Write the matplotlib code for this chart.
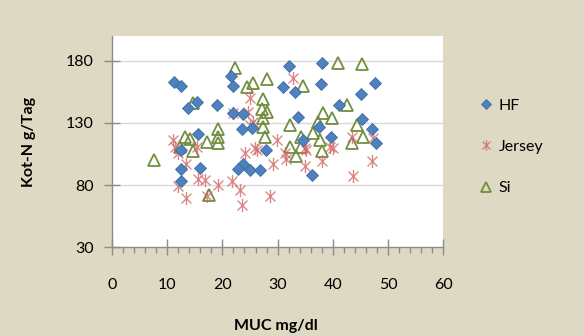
import matplotlib
matplotlib.use("Agg")
import matplotlib.pyplot as plt
from matplotlib.path import Path
from matplotlib.ticker import MultipleLocator

# ---- data ----
hf_x = [11.3, 12.5, 13.7, 15.4, 19.1, 21.5, 21.9, 32.1, 31.0, 33.1, 38.1, 37.8, 47.6,
        45.0, 41.1, 33.7, 45.3, 37.5, 47.0, 39.6, 47.8, 34.6, 21.9, 23.8, 23.5, 25.3,
        27.9, 15.6, 12.6, 12.6, 12.6, 15.9, 23.8, 22.9, 25.0, 26.8, 36.3]
hf_y = [163, 160, 142, 147, 144, 168, 160, 176, 159, 155, 178, 161, 162,
        153, 144, 135, 133, 127, 125, 119, 114, 116, 138, 137, 125, 126,
        108, 121, 108, 93, 83, 94, 97, 93, 92, 92, 88]

jersey_x = [11.0, 11.5, 12.0, 13.5, 12.0, 13.4, 15.4, 15.6, 16.9, 17.2, 19.3, 21.7,
            22.0, 23.2, 23.5, 24.1, 24.7, 25.0, 25.0, 25.6, 25.9, 26.2, 28.6, 29.2,
            29.8, 31.3, 31.6, 32.8, 34.9, 34.9, 35.2, 38.0, 39.5, 40.1, 43.4, 43.7,
            47.0, 47.3]
jersey_y = [116, 111, 106, 97, 79, 70, 111, 85, 84, 71, 80, 83,
            138, 76, 64, 106, 139, 150, 128, 131, 110, 108, 71, 97,
            116, 106, 101, 166, 95, 110, 108, 99, 111, 110, 119, 87,
            99, 118]

si_x = [7.7, 14.7, 22.3, 24.4, 25.6, 28.0, 27.3, 27.2, 28.1, 27.3, 27.7, 19.3, 19.3,
        19.3, 17.2, 14.1, 13.2, 12.3, 17.6, 34.5, 41.0, 45.2, 42.6, 39.8, 38.2, 37.3,
        32.2, 44.3, 45.5, 43.4, 37.6, 34.2, 36.4, 32.2, 38.0, 33.4, 34.3, 27.4, 14.7]
si_y = [100, 146, 174, 159, 162, 165, 149, 141, 139, 134, 119, 125, 119,
        114, 115, 117, 119, 111, 72, 160, 178, 177, 144, 134, 138, 131,
        128, 128, 119, 114, 116, 119, 122, 111, 107, 103, 111, 127, 107]

series_names = ["HF", "Jersey", "Si"]
x_ticks = [0, 10, 20, 30, 40, 50, 60]
y_ticks = [30, 80, 130, 180]
x_label = "MUC mg/dl"
y_label = "Kot-N g/Tag"

# ---- style ----
plt.rcParams['font.family'] = ['Lato', 'DejaVu Sans']
bg = "#DDD9C3"
hf_face, hf_edge = "#4F81BD", "#3A6BA5"
jersey_col = "#D06A67"
si_col = "#728E3E"
axis_col = "#8C8C8C"

star = Path([(0, -1), (0, 1), (-0.75, -0.75), (0.75, 0.75), (-0.75, 0.75), (0.75, -0.75)],
            [Path.MOVETO, Path.LINETO, Path.MOVETO, Path.LINETO, Path.MOVETO, Path.LINETO])

fig = plt.figure(figsize=(5.84, 3.36), dpi=100, facecolor=bg)
ax = fig.add_axes([0.1914, 0.264, 0.5680, 0.6295])
ax.set_facecolor("white")

ax.plot(si_x, si_y, linestyle="none", marker="^", markersize=9, markerfacecolor="none",
        markeredgecolor=si_col, markeredgewidth=1.3, label=series_names[2], zorder=3)
ax.plot(jersey_x, jersey_y, linestyle="none", marker=star, markersize=9.5,
        markeredgecolor=jersey_col, markerfacecolor="none", markeredgewidth=1.0,
        alpha=0.8, label=series_names[1], zorder=4)
ax.plot(hf_x, hf_y, linestyle="none", marker="D", markersize=6.5, markerfacecolor=hf_face,
        markeredgecolor=hf_edge, markeredgewidth=0.6, label=series_names[0], zorder=5)

ax.set_xlim(0, 60)
ax.set_ylim(30, 200)
ax.set_xticks(x_ticks)
ax.set_yticks(y_ticks)
ax.xaxis.set_minor_locator(MultipleLocator(2))

for y in y_ticks[1:]:
    ax.axhline(y, color="#D9D9D9", linewidth=1.0, zorder=1)

for s in ["top", "right"]:
    ax.spines[s].set_visible(False)
for s in ["left", "bottom"]:
    ax.spines[s].set_color(axis_col)
    ax.spines[s].set_linewidth(1.0)

ax.tick_params(axis="x", which="major", direction="inout", length=12, width=1.0,
               color=axis_col, labelsize=11.5, pad=16)
ax.tick_params(axis="x", which="minor", direction="out", length=4.5, width=1.0, color=axis_col)
ax.tick_params(axis="y", which="major", direction="inout", length=12, width=1.0,
               color=axis_col, labelsize=11.5, pad=7)

ax.set_xlabel(x_label, fontsize=11.5, fontweight="bold")
ax.set_ylabel(y_label, fontsize=11.5, fontweight="bold")
ax.xaxis.set_label_coords(0.4955, -0.34)
ax.yaxis.set_label_coords(-0.228, 0.5)

handles, labels = ax.get_legend_handles_labels()
order = [2, 1, 0]
leg = fig.legend([handles[i] for i in order], [labels[i] for i in order],
                 loc="upper left", bbox_to_anchor=(0.795, 0.75), frameon=False,
                 fontsize=11.5, labelspacing=1.7, handlelength=0.9, handletextpad=0.35,
                 markerscale=0.8)

fig.savefig("out.png", dpi=100, facecolor=bg)
